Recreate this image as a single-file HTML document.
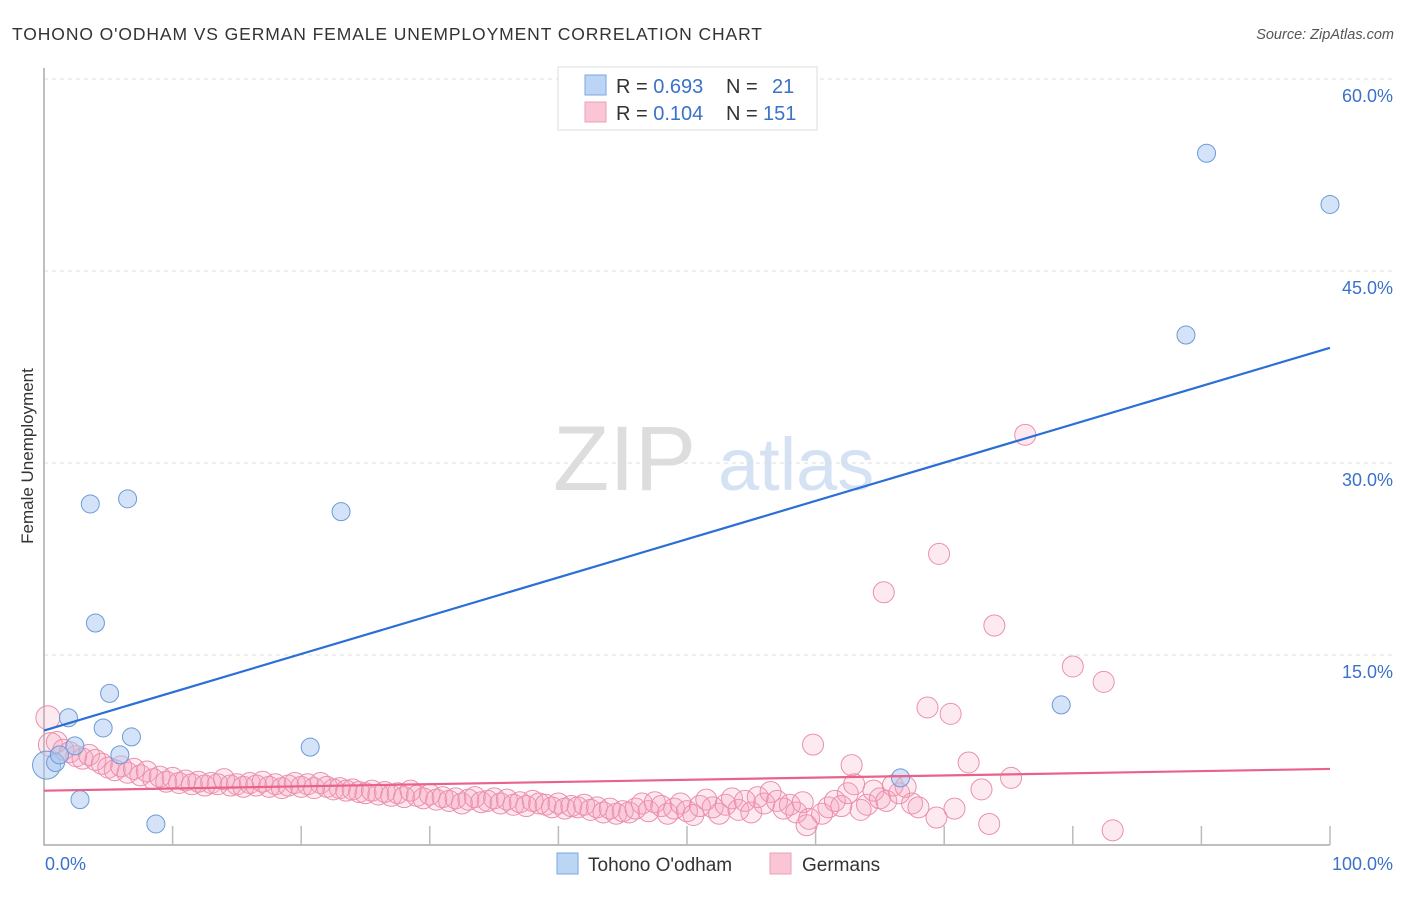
<!DOCTYPE html>
<html><head><meta charset="utf-8"><style>
body{margin:0;background:#fff;font-family:"Liberation Sans",sans-serif}
svg text{font-family:"Liberation Sans",sans-serif}
</style></head><body>
<svg id="c" width="1406" height="892">
<text x="12" y="40" font-size="17.5" fill="#333" textLength="750" lengthAdjust="spacing">TOHONO O'ODHAM VS GERMAN FEMALE UNEMPLOYMENT CORRELATION CHART</text>
<text x="1394" y="39" font-size="14.5" fill="#555" font-style="italic" text-anchor="end">Source: ZipAtlas.com</text>
<g><text x="553" y="490" font-size="92" fill="#ddd" font-family="Liberation Serif">ZIP</text><text x="718" y="490" font-size="74" fill="#d4e2f4">atlas</text></g>
<g id="grid"></g><g id="axes"></g><g id="pink"></g><g id="blue"></g><g id="lines"></g>
<text transform="translate(33,456) rotate(-90)" font-size="17" fill="#333" text-anchor="middle">Female Unemployment</text>
<g>
<rect x="558" y="67" width="259" height="63" fill="#fff" stroke="#ddd"/>
<rect x="585" y="75" width="21" height="20" fill="#bcd5f5" stroke="#7aa6e0"/>
<rect x="585" y="102" width="21" height="20" fill="#fac6d5" stroke="#eba0b8"/>
<text x="616" y="93" font-size="20" fill="#333">R = <tspan fill="#3a72c9">0.693</tspan><tspan x="726">N = </tspan><tspan x="772" fill="#3a72c9">21</tspan></text>
<text x="616" y="120" font-size="20" fill="#333">R = <tspan fill="#3a72c9">0.104</tspan><tspan x="726">N = </tspan><tspan x="763" fill="#3a72c9">151</tspan></text>
</g>
<g>
<rect x="557" y="853" width="21" height="21" fill="#bcd5f5" stroke="#7aa6e0"/>
<text x="588" y="871" font-size="19" fill="#333">Tohono O'odham</text>
<rect x="770" y="853" width="21" height="21" fill="#fac6d5" stroke="#eba0b8"/>
<text x="802" y="871" font-size="19" fill="#333">Germans</text>
</g>
</svg>
<script>
const yTicks=[15,30,45,60];
const yTickLabels=["15.0%","30.0%","45.0%","60.0%"];
const xLabels=["0.0%","100.0%"];
const blueX=[0.2,0.9,1.2,1.9,2.4,2.8,3.6,4.0,4.6,5.1,5.9,6.5,6.8,8.7,20.7,23.1,66.6,79.1,88.8,90.4,100];
const blueY=[6.4,6.6,7.2,10.1,7.9,3.7,26.8,17.5,9.3,12.0,7.2,27.2,8.6,1.8,7.8,26.2,5.4,11.1,40.0,54.2,50.2];
const pinkPts=[[0.3,10.1],[0.5,8.0],[1,8.2],[1.5,7.6],[2,7.4],[2.5,7.1],[3,6.9],[3.5,7.2],[4,6.8],[4.5,6.5],[5,6.2],[5.5,6.0],[6,6.3],[6.5,5.8],[7,6.1],[7.5,5.6],[8,5.9],[8.5,5.3],[9,5.5],[9.5,5.1],[10,5.4],[10.5,5.0],[11,5.2],[11.5,4.9],[12,5.1],[12.5,4.8],[13,5.0],[13.5,4.9],[14,5.3],[14.5,4.8],[15,4.9],[15.5,4.7],[16,5.0],[16.5,4.8],[17,5.1],[17.5,4.7],[18,4.9],[18.5,4.6],[19,4.8],[19.5,5.0],[20,4.7],[20.5,4.9],[21,4.6],[21.5,5.0],[22,4.7],[22.5,4.5],[23,4.6],[23.5,4.4],[24,4.5],[24.5,4.3],[25,4.2],[25.5,4.4],[26,4.1],[26.5,4.3],[27,4.0],[27.5,4.2],[28,3.9],[28.5,4.4],[29,4.0],[29.5,3.8],[30,4.1],[30.5,3.7],[31,3.9],[31.5,3.6],[32,3.8],[32.5,3.4],[33,3.7],[33.5,3.9],[34,3.5],[34.5,3.6],[35,3.8],[35.5,3.4],[36,3.7],[36.5,3.3],[37,3.5],[37.5,3.2],[38,3.6],[38.5,3.4],[39,3.3],[39.5,3.1],[40,3.4],[40.5,3.0],[41,3.2],[41.5,3.1],[42,3.3],[42.5,2.9],[43,3.1],[43.5,2.7],[44,3.0],[44.5,2.6],[45,2.8],[45.5,2.7],[46,3.0],[46.5,3.4],[47,2.8],[47.5,3.5],[48,3.2],[48.5,2.6],[49,3.0],[49.5,3.4],[50,2.8],[50.5,2.5],[51,3.2],[51.5,3.7],[52,3.1],[52.5,2.6],[53,3.3],[53.5,3.8],[54,2.9],[54.5,3.6],[55,2.7],[55.5,3.9],[56,3.4],[56.5,4.3],[57,3.6],[57.5,3.0],[58,3.3],[58.5,2.7],[59,3.5],[59.5,2.2],[60.5,2.6],[61,3.1],[61.5,3.6],[62,3.2],[62.5,4.2],[63,4.9],[63.5,2.9],[64,3.3],[64.5,4.4],[65,3.8],[65.5,3.6],[66,4.8],[66.5,4.2],[67,4.7],[67.5,3.4],[68,3.1],[76.3,32.2],[69.6,22.9],[65.3,19.9],[73.9,17.3],[80.0,14.1],[82.4,12.9],[68.7,10.9],[70.5,10.4],[59.8,8.0],[62.8,6.4],[71.9,6.6],[75.2,5.4],[72.9,4.5],[83.1,1.3],[73.5,1.8],[69.4,2.3],[70.8,3.0],[59.3,1.7]];
const blueLine=[9.1,39.0];
const pinkLine=[4.4,6.1];
const NS="http://www.w3.org/2000/svg";
const X=v=>44+v*12.86, Y=v=>847-v*12.8;
function mk(p,t,a){const e=document.createElementNS(NS,t);for(const k in a)e.setAttribute(k,a[k]);document.getElementById(p).appendChild(e);return e;}
yTicks.forEach((t,i)=>{
 const g=mk('grid','line',{x1:44,x2:1395,y1:Y(t),y2:Y(t),stroke:'#ddd','stroke-dasharray':'4,4'});
 
 
 const l=mk('grid','text',{x:1393,y:Y(t)+23,'font-size':18,fill:'#3a72c9','text-anchor':'end'});
 l.textContent=yTickLabels[i];
 
 
});
const ax=mk('axes','path',{d:'M44 68V845H1330',fill:'none',stroke:'#aaa','stroke-width':1.5});


for(let i=1;i<=10;i++){const t=mk('axes','line',{x1:X(i*10),x2:X(i*10),y1:826,y2:845,stroke:'#bbb','stroke-width':1.5});
 
 }
[[0,'start',45],[100,'end',1393]].forEach((d,i)=>{const t=mk('axes','text',{x:d[2],y:870,'font-size':18,fill:'#3a72c9','text-anchor':d[1]});t.textContent=xLabels[i];
 
 });
pinkPts.forEach(p=>{const c=mk('pink','circle',{cx:X(p[0]),cy:Y(p[1]),r:p[0]<0.6?12:10.5,fill:'rgba(246,160,186,0.22)',stroke:'#eb8fac','stroke-width':1});
 
 });
blueX.forEach((x,i)=>{const c=mk('blue','circle',{cx:X(x),cy:Y(blueY[i]),r:i==0?14:9,fill:'rgba(170,200,240,0.5)',stroke:'#6b9ad8','stroke-width':1});
 
 });
const bl=mk('lines','line',{x1:X(0),y1:Y(blueLine[0]),x2:X(100),y2:Y(blueLine[1]),stroke:'#2b6fd6','stroke-width':2.2});


const pl=mk('lines','line',{x1:X(0),y1:Y(pinkLine[0]),x2:X(100),y2:Y(pinkLine[1]),stroke:'#e8628a','stroke-width':2.2});


</script>
</body></html>
